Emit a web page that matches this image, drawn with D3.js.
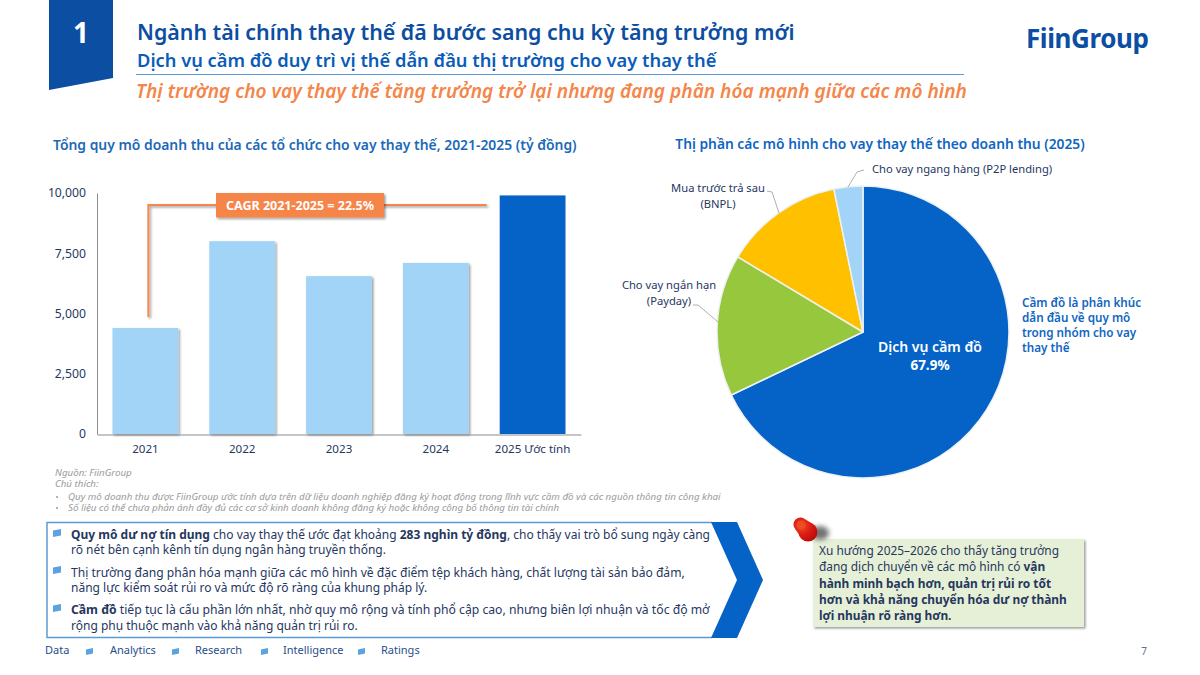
<!DOCTYPE html>
<html lang="vi">
<head>
<meta charset="utf-8">
<script src="https://cdn.jsdelivr.net/npm/d3@7/dist/d3.min.js"></script>
<style>
  html, body { margin: 0; padding: 0; background: #fff; }
  svg { display: block; }
  text { font-family: "Noto Sans", sans-serif; }
</style>
</head>
<body>
<svg id="page" width="1200" height="675" viewBox="0 0 1200 675"></svg>
<script>
// Revenue of alternative lenders, billion VND
const years = ["2021", "2022", "2023", "2024", "2025 Ước tính"];
const revenue = [4400, 8000, 6550, 7100, 9900];
const revenueTicks = [0, 2500, 5000, 7500, 10000];

// Revenue share by lending model, 2025 (%)
const models = ["Dịch vụ cầm đồ", "Cho vay ngắn hạn (Payday)", "Mua trước trả sau (BNPL)", "Cho vay ngang hàng (P2P lending)"];
const shares = [67.9, 15.7, 13.2, 3.2];

const NAVY = "#0b4ea2", BLUE = "#0563c8", SKY = "#a2d4f8", ORANGE = "#f58549", INK = "#26375f";
const pieColors = [BLUE, "#97c73c", "#ffc000", SKY];

const svg = d3.select("#page");

const defs = svg.append("defs");
const shadow = defs.append("filter").attr("id", "soft").attr("x", "-20%").attr("y", "-20%").attr("width", "140%").attr("height", "140%");
shadow.append("feDropShadow").attr("dx", 1.5).attr("dy", 1.5).attr("stdDeviation", 1).attr("flood-color", "#000").attr("flood-opacity", 0.4);
const pinGrad = defs.append("radialGradient").attr("id", "pinHead").attr("gradientUnits", "userSpaceOnUse")
  .attr("cx", 802).attr("cy", 526).attr("r", 18);
pinGrad.append("stop").attr("offset", "0%").attr("stop-color", "#ee4a22");
pinGrad.append("stop").attr("offset", "50%").attr("stop-color", "#dc1c12");
pinGrad.append("stop").attr("offset", "100%").attr("stop-color", "#b80a0a");
const pinBlur = defs.append("filter").attr("id", "pinShadow").attr("x", "-60%").attr("y", "-60%").attr("width", "220%").attr("height", "220%");
pinBlur.append("feGaussianBlur").attr("stdDeviation", 2.5);

// Writes a line of text made of plain and bold runs
function richLine(parent, x, y, runs, size, fill, anchor) {
  const t = parent.append("text").attr("x", x).attr("y", y).attr("font-size", size).attr("fill", fill);
  if (anchor) t.attr("text-anchor", anchor);
  runs.forEach(r => t.append("tspan").attr("font-weight", r[1] ? 700 : 400).text(r[0]));
  return t;
}

/* Header band */
svg.append("path").attr("d", "M49 0H113V78L49 90Z").attr("fill", NAVY);
svg.append("text").attr("x", 81).attr("y", 43).attr("text-anchor", "middle").attr("font-size", 28).attr("font-weight", 700).attr("fill", "#fff").text("1");
svg.append("text").attr("x", 137).attr("y", 40).attr("font-size", 21.35).attr("font-weight", 600).attr("fill", NAVY)
  .text("Ngành tài chính thay thế đã bước sang chu kỳ tăng trưởng mới");
svg.append("text").attr("x", 137).attr("y", 67).attr("font-size", 18.3).attr("font-weight", 600).attr("fill", "#0a5cb8")
  .text("Dịch vụ cầm đồ duy trì vị thế dẫn đầu thị trường cho vay thay thế");
svg.append("line").attr("x1", 136).attr("x2", 964).attr("y1", 74.5).attr("y2", 74.5).attr("stroke", "#5b9bd5").attr("stroke-width", 1);
svg.append("text").attr("x", 136).attr("y", 98).attr("font-size", 19.1).attr("font-weight", 600).attr("font-style", "italic").attr("fill", ORANGE)
  .text("Thị trường cho vay thay thế tăng trưởng trở lại nhưng đang phân hóa mạnh giữa các mô hình");
svg.append("text").attr("x", 1026).attr("y", 48).attr("font-size", 26).attr("font-weight", 700).attr("fill", NAVY).attr("letter-spacing", -0.4).text("FiinGroup");

/* Bar chart */
svg.append("text").attr("x", 53).attr("y", 150).attr("font-size", 13.9).attr("font-weight", 600).attr("fill", "#1b69b8")
  .text("Tổng quy mô doanh thu của các tổ chức cho vay thay thế, 2021-2025 (tỷ đồng)");

const x = d3.scaleBand().domain(years).range([97, 581]).paddingInner(0.32).paddingOuter(0.16);
const y = d3.scaleLinear().domain([0, 10000]).range([434, 193]);

const bars = svg.append("g");
bars.selectAll("rect").data(revenue).join("rect")
  .attr("x", (d, i) => x(years[i]))
  .attr("y", d => y(d))
  .attr("width", x.bandwidth())
  .attr("height", d => y(0) - y(d))
  .attr("fill", (d, i) => i === years.length - 1 ? BLUE : SKY)
  .attr("filter", (d, i) => i === years.length - 1 ? null : "url(#soft)");

const yAxis = svg.append("g").attr("transform", "translate(97,0)")
  .call(d3.axisLeft(y).tickValues(revenueTicks).tickSize(0).tickPadding(11).tickFormat(d3.format(",")));
yAxis.select(".domain").attr("stroke", "#8c8c8c");
yAxis.selectAll("text").attr("font-size", 12.2).attr("fill", INK);

const xAxis = svg.append("g").attr("transform", "translate(0,434.5)")
  .call(d3.axisBottom(x).tickSize(0).tickPadding(10));
xAxis.select(".domain").attr("stroke", "#8c8c8c");
xAxis.selectAll("text").attr("font-size", 11.6).attr("fill", INK);

// CAGR bracket from the first bar to the last one
const bracketX = x(years[0]) + x.bandwidth() / 2 + 3;
const bracketEnd = x(years[4]) - 13;
const bracketY = 205;
svg.append("path")
  .attr("d", d3.line()([[bracketX, y(revenue[0]) - 11], [bracketX, bracketY], [bracketEnd, bracketY]]))
  .attr("fill", "none").attr("stroke", ORANGE).attr("stroke-width", 2).attr("filter", "url(#soft)");
svg.append("rect").attr("x", 216).attr("y", 193).attr("width", 168).attr("height", 24.5).attr("fill", ORANGE).attr("filter", "url(#soft)");
svg.append("text").attr("x", 300).attr("y", 209.5).attr("text-anchor", "middle").attr("font-size", 12.5).attr("font-weight", 700).attr("fill", "#fff")
  .text("CAGR 2021-2025 = 22.5%");

/* Pie chart */
svg.append("text").attr("x", 880).attr("y", 149).attr("text-anchor", "middle").attr("font-size", 13.8).attr("font-weight", 600).attr("fill", "#0f66c2")
  .text("Thị phần các mô hình cho vay thay thế theo doanh thu (2025)");

const cx = 863, cy = 332, radius = 146;
const pieLayout = d3.pie().sort(null)(shares);
const arc = d3.arc().innerRadius(0).outerRadius(radius);
const pieG = svg.append("g").attr("transform", `translate(${cx},${cy})`);
pieG.selectAll("path").data(pieLayout).join("path")
  .attr("d", arc)
  .attr("fill", (d, i) => pieColors[i])
  .attr("stroke", "#eef1f4").attr("stroke-width", 1.5).attr("stroke-linejoin", "round");

svg.append("text").attr("x", 930).attr("y", 352).attr("text-anchor", "middle").attr("font-size", 14).attr("font-weight", 600).attr("fill", "#fff").text(models[0]);
svg.append("text").attr("x", 930).attr("y", 370).attr("text-anchor", "middle").attr("font-size", 13.5).attr("font-weight", 700).attr("fill", "#fff").text(d3.format(".1f")(shares[0]) + "%");

// Outside labels with their leader lines
const leaders = [
  [[693, 305], [698, 305], [718, 322]],
  [[767, 191], [772, 192], [779, 213]],
  [[864, 170], [857, 172], [848, 187]]
].map(p => d3.line()(p));
svg.append("g").selectAll("path").data(leaders).join("path").attr("d", d => d).attr("fill", "none").attr("stroke", "#a6a6a6").attr("stroke-width", 0.9);

// The two-line labels break before the bracketed abbreviation
const twoLine = (name) => { const k = name.indexOf(" ("); return [name.slice(0, k), name.slice(k + 1)]; };
const pieLabels = svg.append("g");
[[models[1], 669, 289], [models[2], 718, 192]].forEach(d => {
  twoLine(d[0]).forEach((s, i) => richLine(pieLabels, d[1], d[2] + i * 16, [[s, false]], 11.2, INK, "middle"));
});
richLine(pieLabels, 872, 173, [[models[3], false]], 11.2, INK);

const sideNote = ["Cầm đồ là phân khúc", "dẫn đầu về quy mô", "trong nhóm cho vay", "thay thế"];
svg.append("g").selectAll("text").data(sideNote).join("text")
  .attr("x", 1022).attr("y", (d, i) => 307 + i * 15)
  .attr("font-size", 11.7).attr("font-weight", 600).attr("fill", "#0f66c2").text(d => d);

/* Source notes */
const notes = [
  [55, 476, "Nguồn: FiinGroup"],
  [55, 487, "Chú thích:"],
  [68, 500, "Quy mô doanh thu được FiinGroup ước tính dựa trên dữ liệu doanh nghiệp đăng ký hoạt động trong lĩnh vực cầm đồ và các nguồn thông tin công khai"],
  [68, 511, "Số liệu có thể chưa phản ánh đầy đủ các cơ sở kinh doanh không đăng ký hoặc không công bố thông tin tài chính"]
];
svg.append("g").selectAll("text").data(notes).join("text")
  .attr("x", d => d[0]).attr("y", d => d[1]).attr("font-size", 9.75).attr("font-style", "italic").attr("fill", "#9a9a9a").text(d => d[2]);
svg.append("g").selectAll("circle").data([497, 508]).join("circle").attr("cx", 57).attr("cy", d => d).attr("r", 1).attr("fill", "#9a9a9a");

/* Takeaway box with chevron */
svg.append("path").attr("d", "M712 522.5H47V637.5H712").attr("fill", "none").attr("stroke", "#5b9bd5").attr("stroke-width", 1.5);
svg.append("path").attr("d", "M711 522H737L763 580L737 638H711L737 580Z").attr("fill", BLUE);

// Small slanted square used as a list marker
const marker = (g, mx, my, s, fill) => g.append("path")
  .attr("d", `M${mx} ${my + s * 0.2}L${mx + s} ${my}V${my + s * 0.8}L${mx} ${my + s}Z`).attr("fill", fill);

const bullets = svg.append("g");
[[53, 529], [53, 566], [53, 604]].forEach(p => marker(bullets, p[0], p[1], 8, "#5ba3e0"));

const bodyLines = [
  [538.5, 12, [["Quy mô dư nợ tín dụng", true], [" cho vay thay thế ước đạt khoảng ", false], ["283 nghìn tỷ đồng", true], [", cho thấy vai trò bổ sung ngày càng", false]]],
  [554, 12, [["rõ nét bên cạnh kênh tín dụng ngân hàng truyền thống.", false]]],
  [576.5, 12.1, [["Thị trường đang phân hóa mạnh giữa các mô hình về đặc điểm tệp khách hàng, chất lượng tài sản bảo đảm,", false]]],
  [592, 12, [["năng lực kiểm soát rủi ro và mức độ rõ ràng của khung pháp lý.", false]]],
  [614, 12.2, [["Cầm đồ", true], [" tiếp tục là cấu phần lớn nhất, nhờ quy mô rộng và tính phổ cập cao, nhưng biên lợi nhuận và tốc độ mở", false]]],
  [629.5, 12, [["rộng phụ thuộc mạnh vào khả năng quản trị rủi ro.", false]]]
];
bodyLines.forEach(l => richLine(svg, 71, l[0], l[2], l[1], INK));

/* Sticky note with pin */
svg.append("rect").attr("x", 813).attr("y", 539).attr("width", 271).attr("height", 88).attr("fill", "#e6f0d6").attr("filter", "url(#soft)");
const noteLines = [
  [[["Xu hướng 2025–2026 cho thấy tăng trưởng", false]], 555],
  [[["đang dịch chuyển về các mô hình có ", false], ["vận", true]], 571],
  [[["hành minh bạch hơn, quản trị rủi ro tốt", true]], 587.5],
  [[["hơn và khả năng chuyển hóa dư nợ thành", true]], 604],
  [[["lợi nhuận rõ ràng hơn.", true]], 620]
];
noteLines.forEach(l => richLine(svg, 819, l[1], l[0], 11.9, INK));

// Pin: a shadow, the flared base and the smaller rounded tip
svg.append("ellipse").attr("cx", 820).attr("cy", 533).attr("rx", 9).attr("ry", 7).attr("fill", "#444").attr("opacity", 0.75).attr("filter", "url(#pinShadow)");
const pin = svg.append("g").attr("fill", "url(#pinHead)");
pin.append("circle").attr("cx", 808).attr("cy", 532).attr("r", 9.5);
pin.append("circle").attr("cx", 800.5).attr("cy", 524.5).attr("r", 7);
pin.append("path").attr("d", "M795.5 529.5L801 537.5L813 524L805.5 519.5Z");
svg.append("circle").attr("cx", 801).attr("cy", 525).attr("r", 4.5).attr("fill", "#ee5024").attr("opacity", 0.8);

/* Footer */
const footerItems = [["Data", 45], ["Analytics", 110], ["Research", 195], ["Intelligence", 283], ["Ratings", 381]];
svg.append("g").selectAll("text").data(footerItems).join("text")
  .attr("x", d => d[1]).attr("y", 654).attr("font-size", 11).attr("fill", "#1f4e8c").text(d => d[0]);
const footerMarks = svg.append("g");
[86, 172, 261, 358].forEach(mx => marker(footerMarks, mx, 648, 7, "#5ba3e0"));
svg.append("text").attr("x", 1144).attr("y", 655).attr("text-anchor", "middle").attr("font-size", 10).attr("fill", "#5a6f9a").text("7");
</script>
</body>
</html>
